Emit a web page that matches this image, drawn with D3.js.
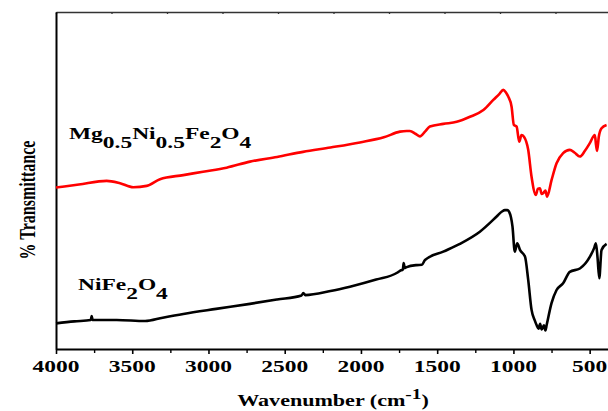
<!DOCTYPE html>
<html>
<head>
<meta charset="utf-8">
<script src="https://cdn.jsdelivr.net/npm/d3@7"></script>
<style>
body { margin: 0; background: #fff; }
text { font-family: "Liberation Serif", "Times New Roman", serif; font-weight: bold; }
</style>
</head>
<body>
<div id="chart"></div>
<script>
// FTIR spectra (wavenumber cm-1, % transmittance in arbitrary units)
var tickValues = [4000, 3500, 3000, 2500, 2000, 1500, 1000, 500];
var minorTicks = [3750, 3250, 2750, 2250, 1750, 1250, 750];

var mgWave = [4000, 3850, 3668, 3580, 3493, 3405, 3318, 3165, 3036, 2881, 2728, 2550, 2380, 2200, 2007, 1850, 1744, 1700, 1679, 1640, 1613, 1580, 1548, 1460, 1372, 1285, 1197, 1132, 1090, 1067, 1050, 1034, 1012, 997, 979, 962, 947, 931, 903, 881, 853, 840, 826, 815, 805, 790, 779, 750, 717, 674, 630, 600, 564, 531, 500, 466, 458, 451, 440, 422, 389];
var mgT = [47.9, 48.8, 49.9, 49.2, 48.0, 48.4, 50.4, 51.6, 52.6, 53.8, 55.6, 57.0, 58.5, 59.8, 61.3, 62.8, 64.5, 64.7, 64.7, 63.8, 63.1, 64.5, 66.0, 66.8, 67.4, 68.9, 70.9, 73.9, 75.8, 76.9, 76.2, 74.9, 71.9, 66.5, 66.0, 61.5, 63.5, 63.0, 59.1, 51.1, 45.7, 47.5, 47.7, 46.0, 46.2, 47.0, 45.2, 50.1, 55.1, 58.1, 59.1, 58.3, 57.1, 58.8, 61.0, 63.5, 60.5, 58.8, 63.0, 65.5, 66.5];

var niWave = [4000, 3880, 3772, 3766, 3760, 3602, 3416, 3300, 3165, 2950, 2728, 2550, 2390, 2378, 2365, 2200, 2072, 1900, 1760, 1744, 1725, 1720, 1712, 1700, 1635, 1600, 1580, 1460, 1351, 1220, 1110, 1075, 1056, 1040, 1028, 1006, 991, 975, 957, 924, 903, 881, 860, 848, 835, 825, 815, 800, 790, 782, 750, 717, 674, 630, 564, 498, 470, 459, 448, 437, 422, 389];
var niT = [7.6, 8.2, 8.6, 9.8, 8.6, 8.6, 8.3, 9.3, 10.4, 11.9, 13.4, 14.7, 15.9, 16.6, 16.0, 17.2, 18.5, 20.6, 22.7, 23.2, 23.6, 25.5, 24.0, 24.3, 24.9, 25.0, 26.4, 28.9, 31.2, 34.8, 39.3, 40.8, 41.2, 41.2, 40.7, 36.3, 28.9, 31.4, 29.4, 27.4, 20.5, 11.6, 8.5, 7.1, 6.0, 7.5, 5.8, 7.0, 5.5, 7.1, 13.6, 17.5, 19.5, 22.9, 23.9, 27.4, 30.0, 31.4, 27.0, 21.0, 29.4, 31.2];

var width = 608, height = 411;
var sx = 1.38; // the original figure is stretched sideways

var svg = d3.select("#chart").append("svg")
  .attr("width", width)
  .attr("height", height);

var x = d3.scaleLinear().domain([4000, 360]).range([56, 611]);
var y = d3.scaleLinear().domain([0, 100]).range([349, 12]);

// top frame line with small ticks
var topScale = d3.scaleLinear().domain([0, 10]).range([56, 611]);
svg.append("g")
  .attr("transform", "translate(0,12)")
  .call(d3.axisTop(topScale).ticks(10).tickSize(-2).tickSizeOuter(0).tickFormat(""))
  .call(g => g.selectAll("path,line").attr("stroke", "#333").attr("stroke-width", 1.3));

// left axis, no ticks
svg.append("g")
  .attr("transform", "translate(56,0)")
  .call(d3.axisLeft(y).tickValues([]).tickSizeOuter(0))
  .call(g => g.select(".domain").attr("stroke", "#000").attr("stroke-width", 2));

// bottom axis
svg.append("g")
  .attr("transform", "translate(0,349)")
  .call(d3.axisBottom(x).tickValues(tickValues).tickSize(5).tickSizeOuter(0).tickFormat(""))
  .call(g => g.select(".domain").attr("stroke", "#000").attr("stroke-width", 2))
  .call(g => g.selectAll(".tick line").attr("stroke-width", 1.6));

svg.append("g")
  .attr("transform", "translate(0,349)")
  .call(d3.axisBottom(x).tickValues(minorTicks).tickSize(4).tickFormat(""))
  .call(g => g.select(".domain").remove())
  .call(g => g.selectAll(".tick line").attr("stroke-width", 1.4));

svg.append("g")
  .selectAll("text")
  .data(tickValues)
  .enter().append("text")
  .attr("transform", d => `translate(${x(d)},372) scale(${sx},1)`)
  .attr("text-anchor", "middle")
  .style("font-size", "17px")
  .text(d => d);

// spectra
var line = d3.line()
  .x(d => x(d[0]))
  .y(d => y(d[1]))
  .curve(d3.curveMonotoneX);

function spectrum(w, t) {
  return d3.zip(w, t).sort((a, b) => a[0] - b[0]);
}

svg.append("path")
  .datum(spectrum(mgWave, mgT))
  .attr("fill", "none")
  .attr("stroke", "#ff0000")
  .attr("stroke-width", 2.6)
  .attr("stroke-linejoin", "round")
  .attr("d", line);

svg.append("path")
  .datum(spectrum(niWave, niT))
  .attr("fill", "none")
  .attr("stroke", "#000")
  .attr("stroke-width", 2.6)
  .attr("stroke-linejoin", "round")
  .attr("d", line);

// formula labels: [text, subscript?]
function formula(parts, px, py) {
  var t = svg.append("text")
    .attr("transform", `translate(${px},${py}) scale(${sx},1)`)
    .style("font-size", "17px");
  var low = false;
  parts.forEach(function(p) {
    var s = t.append("tspan").text(p[0]);
    if (p[1] && !low) { s.attr("dy", 9); low = true; }
    else if (!p[1] && low) { s.attr("dy", -9); low = false; }
  });
}
formula([["Mg"], ["0.5", 1], ["Ni"], ["0.5", 1], ["Fe"], ["2", 1], ["O"], ["4", 1]], 69, 139);
formula([["NiFe"], ["2", 1], ["O"], ["4", 1]], 78, 290);

// axis titles
var xt = svg.append("text")
  .attr("transform", `translate(333,406) scale(${sx},1)`)
  .attr("text-anchor", "middle")
  .style("font-size", "16px");
xt.append("tspan").text("Wavenumber (cm");
xt.append("tspan").attr("dy", -7).style("font-size", "14px").text("-1");
xt.append("tspan").attr("dy", 7).text(")");

svg.append("text")
  .attr("transform", `translate(35,200) scale(${sx},1) rotate(-90)`)
  .attr("text-anchor", "middle")
  .style("font-size", "16px")
  .text("% Transmittance");
</script>
</body>
</html>
